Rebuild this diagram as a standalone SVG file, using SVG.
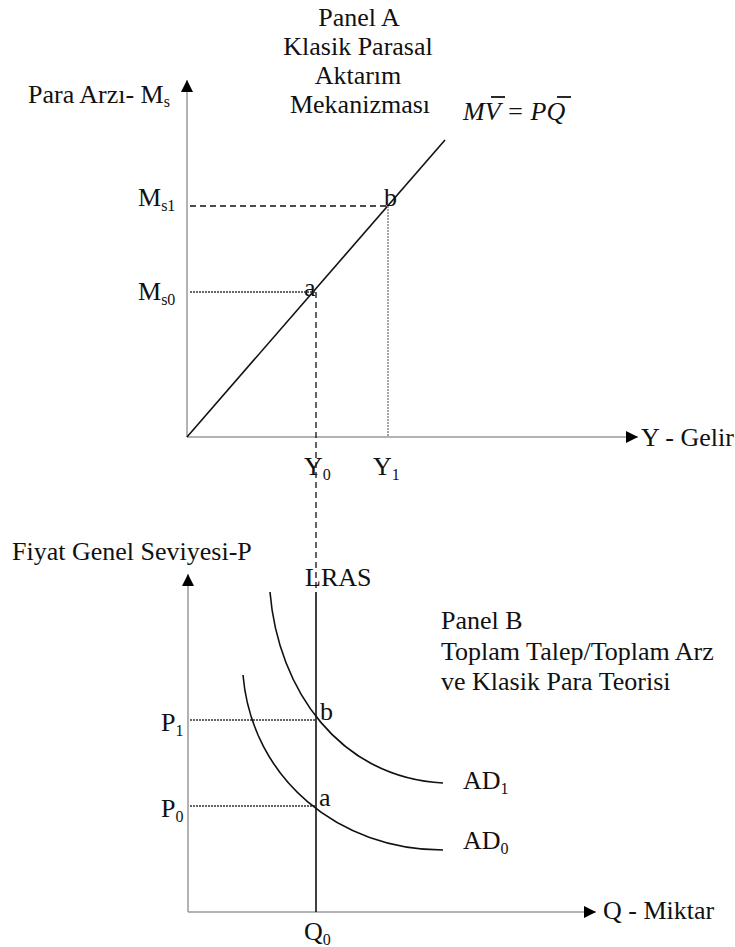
<svg xmlns="http://www.w3.org/2000/svg" width="735" height="947" viewBox="0 0 735 947">
<style>
text{font-family:"Liberation Serif","Times New Roman",serif;font-size:26px;fill:#111}
.sub{font-size:16px}
.axis{stroke:#9a9a9a;stroke-width:1.5;fill:none}
.curve{stroke:#111;stroke-width:1.6;fill:none}
.dash{stroke:#111;stroke-width:1.3;stroke-dasharray:6,4;fill:none}
.dot{stroke:#333;stroke-width:1.3;stroke-dasharray:2,1;fill:none}
.dotg{stroke:#888;stroke-width:1.5;stroke-dasharray:2,1;fill:none}
</style>
<defs>
<marker id="arr" viewBox="0 0 10 10" refX="10" refY="5" markerWidth="14" markerHeight="12" markerUnits="userSpaceOnUse" orient="auto"><path d="M0,0 L10,5 L0,10 Z" fill="#000"/></marker>
</defs>
<rect width="735" height="947" fill="#fff"/>
<g id="panelA-title">
<text x="359" y="26" text-anchor="middle">Panel A</text>
<text x="358" y="55" text-anchor="middle">Klasik Parasal</text>
<text x="358" y="84" text-anchor="middle">Aktarım</text>
<text x="360" y="113" text-anchor="middle">Mekanizması</text>
</g>
<g id="equation"><text x="463" y="120" font-style="italic">MV = PQ</text>
<line x1="491" y1="97" x2="505" y2="97" stroke="#111" stroke-width="1.8"/>
<line x1="557" y1="97" x2="571" y2="97" stroke="#111" stroke-width="1.8"/></g>
<g id="axisA-labels">
<text x="28" y="103">Para Arzı- M<tspan class="sub" dy="4">s</tspan></text>
<text x="641" y="446">Y - Gelir</text>
<text x="138" y="206">M<tspan class="sub" dy="5">s1</tspan></text>
<text x="138" y="300">M<tspan class="sub" dy="5">s0</tspan></text>
<text x="304" y="475">Y<tspan class="sub" dy="5">0</tspan></text>
<text x="373" y="475">Y<tspan class="sub" dy="5">1</tspan></text>
<text x="304" y="296">a</text>
<text x="384" y="206">b</text>
</g>
<g id="connectors">
<line class="axis" x1="187" y1="437" x2="187" y2="80" marker-end="url(#arr)"/>
<line class="axis" x1="187" y1="437" x2="638" y2="437" marker-end="url(#arr)"/>
<line class="curve" x1="187" y1="437" x2="445" y2="140"/>
<line class="dash" x1="190" y1="206" x2="388" y2="206"/>
<line class="dotg" x1="388" y1="206" x2="388" y2="437"/>
<line class="dot" x1="190" y1="292" x2="316" y2="292"/>
<line class="dash" x1="316" y1="292" x2="316" y2="592"/>
<line class="axis" x1="188" y1="912" x2="188" y2="574" marker-end="url(#arr)"/>
<line class="axis" x1="188" y1="912" x2="596" y2="912" marker-end="url(#arr)"/>
<line class="curve" x1="316" y1="592" x2="316" y2="912"/>
<line class="dot" x1="190" y1="720" x2="316" y2="720"/>
<line class="dot" x1="190" y1="806" x2="316" y2="806"/>
<path class="curve" d="M270,592 C278,690 340,778 443,783"/>
<path class="curve" d="M243,675 C252,780 340,850 443,850"/>
</g>
<g id="panelB-labels">
<text x="12" y="560">Fiyat Genel Seviyesi-P</text>
<text x="305" y="586">LRAS</text>
<text x="441" y="629">Panel B</text>
<text x="441" y="660">Toplam Talep/Toplam Arz</text>
<text x="441" y="690">ve Klasik Para Teorisi</text>
<text x="320" y="720">b</text>
<text x="319" y="806">a</text>
<text x="161" y="731">P<tspan class="sub" dy="5">1</tspan></text>
<text x="161" y="817">P<tspan class="sub" dy="5">0</tspan></text>
<text x="463" y="789">AD<tspan class="sub" dy="5">1</tspan></text>
<text x="463" y="849">AD<tspan class="sub" dy="5">0</tspan></text>
<text x="304" y="940">Q<tspan class="sub" dy="5">0</tspan></text>
<text x="603" y="919">Q - Miktar</text>
</g>
</svg>
